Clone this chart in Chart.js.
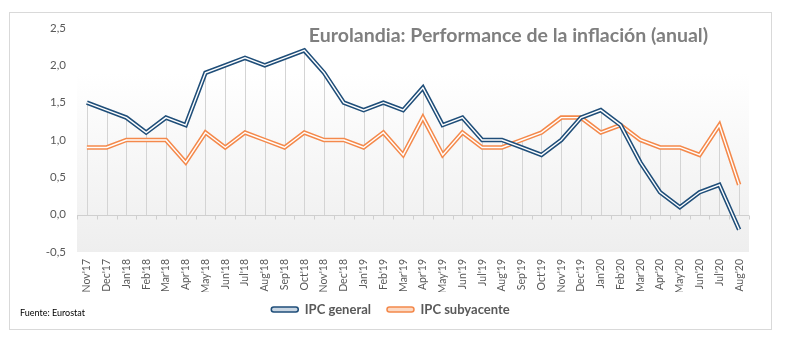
<!DOCTYPE html>
<html>
<head>
<meta charset="utf-8">
<script src="https://cdn.jsdelivr.net/npm/chart.js@4.4.1/dist/chart.umd.min.js"></script>
<style>
  html, body { margin: 0; padding: 0; background: #fff; }
  #wrap { width: 786px; height: 343px; }
</style>
</head>
<body>
<div id="wrap"><canvas id="inflacion"></canvas></div>
<script>
var meses = ["Nov'17","Dec'17","Jan'18","Feb'18","Mar'18","Apr'18","May'18","Jun'18","Jul'18","Aug'18","Sep'18","Oct'18",
  "Nov'18","Dec'18","Jan'19","Feb'19","Mar'19","Apr'19","May'19","Jun'19","Jul'19","Aug'19","Sep'19","Oct'19",
  "Nov'19","Dec'19","Jan'20","Feb'20","Mar'20","Apr'20","May'20","Jun'20","Jul'20","Aug'20"];
var ipcGeneral = [1.5,1.4,1.3,1.1,1.3,1.2,1.9,2.0,2.1,2.0,2.1,2.2,
  1.9,1.5,1.4,1.5,1.4,1.7,1.2,1.3,1.0,1.0,0.9,0.8,
  1.0,1.3,1.4,1.2,0.7,0.3,0.1,0.3,0.4,-0.2];
var ipcSubyacente = [0.9,0.9,1.0,1.0,1.0,0.7,1.1,0.9,1.1,1.0,0.9,1.1,
  1.0,1.0,0.9,1.1,0.8,1.3,0.8,1.1,0.9,0.9,1.0,1.1,
  1.3,1.3,1.1,1.2,1.0,0.9,0.9,0.8,1.2,0.4];
var yTicks = [-0.5, 0, 0.5, 1, 1.5, 2, 2.5];

var azul = "#1f4e79";
var naranja = "#f4894b";
var fuente = "Lato, 'Open Sans', sans-serif";

// background gradient, drop lines, zero axis with ticks
var fondo = {
  id: "fondo",
  afterLayout: function(chart) {
    // pull the legend up a little closer to the month labels
    chart.legend.top -= 5;
    chart.legend.bottom -= 5;
  },
  beforeDraw: function(chart) {
    var ctx = chart.ctx;
    ctx.save();
    ctx.strokeStyle = "#d9d9d9";
    ctx.lineWidth = 1;
    ctx.strokeRect(9.5, 12.5, 762, 317);
    ctx.restore();
  },
  beforeDatasetsDraw: function(chart) {
    var ctx = chart.ctx, a = chart.chartArea;
    var x = chart.scales.x, y = chart.scales.y;
    ctx.save();
    var g = ctx.createLinearGradient(0, a.top, 0, a.bottom);
    g.addColorStop(0, "#ffffff");
    g.addColorStop(0.2, "#ffffff");
    g.addColorStop(1, "#eeeeee");
    ctx.fillStyle = g;
    ctx.fillRect(a.left, a.top, a.right - a.left, a.bottom - a.top);

    var y0 = Math.round(y.getPixelForValue(0)) + 0.5;
    ctx.strokeStyle = "#d4d4d4";
    ctx.lineWidth = 1;
    ctx.beginPath();
    for (var i = 0; i < meses.length; i++) {
      var px = Math.round(x.getPixelForValue(i)) + 0.5;
      var top = Math.max(ipcGeneral[i], ipcSubyacente[i]);
      ctx.moveTo(px, y.getPixelForValue(top));
      ctx.lineTo(px, y0);
    }
    ctx.stroke();

    ctx.strokeStyle = "#cfcfcf";
    ctx.beginPath();
    ctx.moveTo(a.left, y0);
    ctx.lineTo(a.right, y0);
    var step = (a.right - a.left) / meses.length;
    for (var k = 0; k <= meses.length; k++) {
      var tx = Math.round(a.left + k * step) + 0.5;
      ctx.moveTo(tx, y0);
      ctx.lineTo(tx, y0 + 4);
    }
    ctx.stroke();
    ctx.restore();
  },
  afterDraw: function(chart) {
    var ctx = chart.ctx;
    ctx.save();
    ctx.fillStyle = "#7f7f7f";
    ctx.font = "bold 19.5px " + fuente;
    ctx.textAlign = "right";
    ctx.textBaseline = "middle";
    ctx.fillText("Eurolandia: Performance de la inflación (anual)", 708, 36);
    ctx.fillStyle = "#000";
    ctx.font = "9px " + fuente;
    ctx.textAlign = "left";
    ctx.fillText("Fuente: Eurostat", 20, 313);
    ctx.restore();
  }
};

new Chart("inflacion", {
  type: "line",
  data: {
    labels: meses,
    datasets: [{
      label: "IPC general",
      data: ipcGeneral,
      borderColor: azul,
      backgroundColor: "#c9d6e3",
      borderWidth: 4.5,
      order: 1
    }, {
      label: "",
      data: ipcGeneral,
      borderColor: "#ffffff",
      borderWidth: 1.4,
      order: 0
    }, {
      label: "IPC subyacente",
      data: ipcSubyacente,
      borderColor: naranja,
      backgroundColor: "#fbd9c4",
      borderWidth: 4.5,
      order: 3
    }, {
      label: "",
      data: ipcSubyacente,
      borderColor: "#ffffff",
      borderWidth: 1.4,
      order: 2
    }]
  },
  options: {
    responsive: true,
    maintainAspectRatio: false,
    animation: false,
    elements: {
      point: { radius: 0, hoverRadius: 0 },
      line: { tension: 0, fill: false, borderJoinStyle: "miter" }
    },
    layout: { padding: { top: 28, right: 37, bottom: 12, left: 32 } },
    plugins: {
      tooltip: { enabled: false },
      title: { display: false },
      legend: {
        position: "bottom",
        labels: {
          font: { family: fuente, size: 13, weight: "bold" },
          color: "#595959",
          boxWidth: 27,
          boxHeight: 5,
          padding: 16,
          useBorderRadius: true,
          borderRadius: 2.5,
          filter: function(item) { return item.text !== ""; },
          generateLabels: function(chart) {
            var items = Chart.defaults.plugins.legend.labels.generateLabels(chart);
            items.forEach(function(it) { it.lineWidth = 1.5; });
            return items;
          }
        }
      }
    },
    scales: {
      x: {
        offset: true,
        afterFit: function(s) { s.height = 40; },
        grid: { display: false, drawTicks: false },
        border: { display: false },
        ticks: {
          autoSkip: false,
          minRotation: 90,
          maxRotation: 90,
          padding: 7,
          color: "#595959",
          font: { family: fuente, size: 10.5 }
        }
      },
      y: {
        min: -0.5,
        max: 2.5,
        afterFit: function(s) { s.width = 45; },
        afterBuildTicks: function(s) { s.ticks = yTicks.map(function(v) { return { value: v }; }); },
        grid: { display: false, drawTicks: false },
        border: { display: false },
        ticks: {
          padding: 11,
          color: "#595959",
          font: { family: fuente, size: 11.5 },
          callback: function(v) { return v.toFixed(1).replace(".", ","); }
        }
      }
    }
  },
  plugins: [fondo]
});
</script>
</body>
</html>
